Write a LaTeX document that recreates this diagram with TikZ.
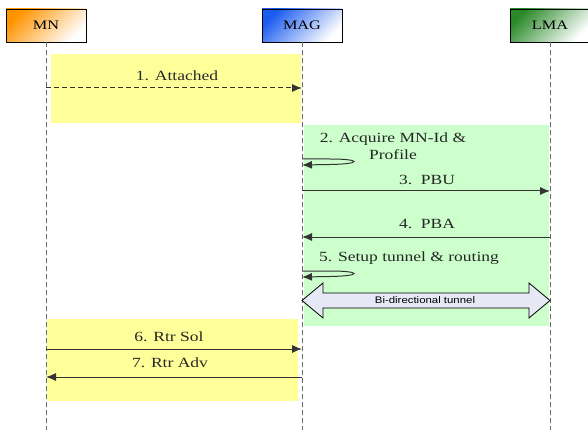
\documentclass[tikz,border=0pt]{standalone}
\usepackage{fontspec}
\setmainfont[FakeStretch=1.25]{Liberation Serif}
\newfontfamily\tunnelfont[FakeStretch=1.2]{Liberation Sans}
\usetikzlibrary{arrows.meta}
\definecolor{ylw}{HTML}{FFFF99}
\definecolor{grn}{HTML}{CCFFCC}
\definecolor{tun}{HTML}{E6E8F6}
\definecolor{msgline}{HTML}{333333}
\definecolor{lifegray}{HTML}{666666}
\definecolor{mnorange}{HTML}{FF9400}
\definecolor{magblue}{HTML}{1A5CF0}
\definecolor{lmagreen}{HTML}{2A8A2A}
\tikzset{
 entity/.style={draw=black, line width=0.8pt, minimum width=80pt, minimum height=33pt, inner sep=0pt, font=\fontsize{13}{15}\selectfont},
 lifeline/.style={draw=lifegray, line width=1pt, dash pattern=on 5pt off 3pt},
 msg/.style={draw=msgline, line width=1pt, -{Latex[length=10pt,width=8pt]}},
 lbl/.style={font=\fontsize{14}{17}\selectfont, text=black!85, inner sep=0pt, align=center},
 region/.style={draw=none},
}
\begin{document}
\begin{tikzpicture}[x=1pt,y=-1pt]
\useasboundingbox (0,0) rectangle (588,430);
% background regions
\fill[ylw] (51,54) rectangle (301,123);
\fill[grn] (304,125) rectangle (549,326);
\fill[ylw] (47,319) rectangle (298,401);
% entities
\node[entity, top color=mnorange, middle color=mnorange!30!white, bottom color=white, shading angle=45] (MN) at (46,25.5) {MN};
\node[entity, top color=magblue, middle color=magblue!30!white, bottom color=white, shading angle=45] (MAG) at (302,25.5) {MAG};
\node[entity, top color=lmagreen, middle color=lmagreen!30!white, bottom color=white, shading angle=45] (LMA) at (550,25.5) {LMA};
% lifeline ends
\coordinate (mnEnd) at (46,430);
\coordinate (magEnd) at (302,430);
\coordinate (lmaEnd) at (550,430);
\draw[lifeline] (MN.south) -- (mnEnd);
\draw[lifeline] (MAG.south) -- (magEnd);
\draw[lifeline] (LMA.south) -- (lmaEnd);
% message anchors
\coordinate (mn1) at (46,88);   \coordinate (mag1) at (302,88);
\coordinate (m2a) at (302,159); \coordinate (m2b) at (302,165);
\coordinate (mag3) at (302,191); \coordinate (lma3) at (550,191);
\coordinate (mag4) at (302,237); \coordinate (lma4) at (550,237);
\coordinate (m5a) at (302,271); \coordinate (m5b) at (302,277);
\coordinate (mn6) at (46,349);  \coordinate (mag6) at (302,349);
\coordinate (mn7) at (46,377);  \coordinate (mag7) at (302,377);
% messages
\draw[msg, dash pattern=on 5pt off 3pt] (mn1) -- (mag1);
\node[lbl] (l1) at (177,76) {1. Attached};
\draw[msg] (m2a) -- (330,159) .. controls (362,159) and (362,164) .. (330,164.5) -- (m2b);
\node[lbl] (l2) at (393,146.5) {2. Acquire MN-Id \&\\Profile};
\draw[msg] (mag3) -- (lma3);
\node[lbl] (l3) at (427,180) {3.\ \ PBU};
\draw[msg] (lma4) -- (mag4);
\node[lbl] (l4) at (427,224) {4.\ \ PBA};
\draw[msg] (m5a) -- (330,271) .. controls (362,271) and (362,276) .. (330,276.5) -- (m5b);
\node[lbl] (l5) at (409,258) {5. Setup tunnel \& routing};
% tunnel
\draw[fill=tun, draw=black, line width=0.8pt, line join=miter]
  (302,300.5) -- (323,283) -- (323,293) -- (529,293) -- (529,283) -- (550,300.5)
  -- (529,318) -- (529,308) -- (323,308) -- (323,318) -- cycle;
\node[font=\tunnelfont\fontsize{9.5}{11}\selectfont, inner sep=0pt] (tunnel) at (425,300.5) {Bi-directional tunnel};
\draw[msg] (mn6) -- (mag6);
\node[lbl] (l6) at (169,337) {6. Rtr Sol};
\draw[msg] (mag7) -- (mn7);
\node[lbl] (l7) at (170,363) {7. Rtr Adv};
\end{tikzpicture}
\end{document}
